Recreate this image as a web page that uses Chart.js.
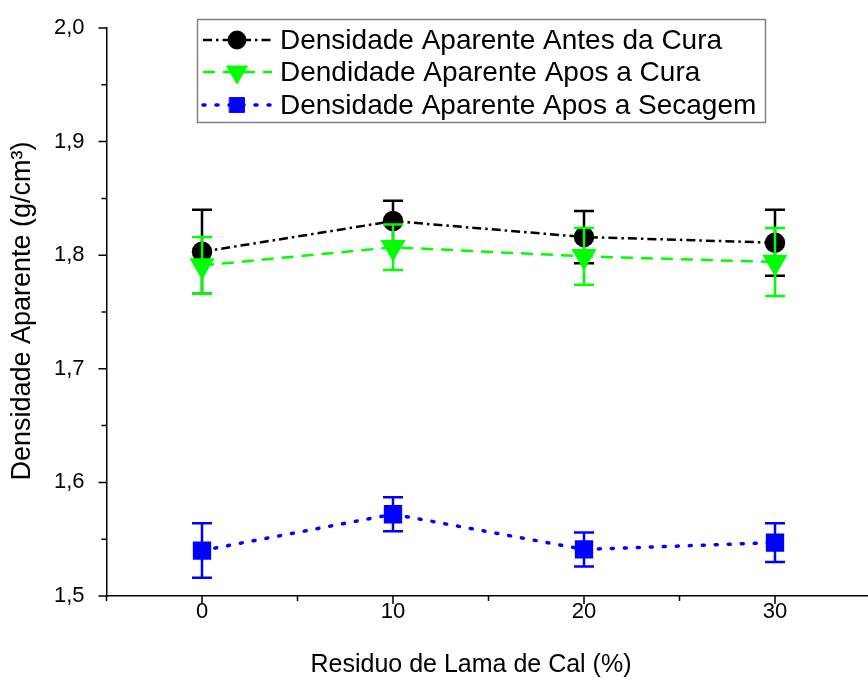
<!DOCTYPE html>
<html>
<head>
<meta charset="utf-8">
<script src="https://cdn.jsdelivr.net/npm/chart.js@4.4.1/dist/chart.umd.min.js"></script>
<style>
  body { margin: 0; background: #fff; overflow: hidden; }
  #wrap { position: relative; width: 885px; height: 681px; }
</style>
</head>
<body>
<div id="wrap"><canvas id="densChart" width="885" height="681"></canvas></div>
<script>
const residuo = [0, 10, 20, 30];

const antesCura = [1.803, 1.830, 1.816, 1.811];
const antesCuraErr = [0.037, 0.018, 0.023, 0.029];

const aposCura = [1.791, 1.807, 1.799, 1.794];
const aposCuraErr = [0.025, 0.020, 0.025, 0.030];

const aposSecagem = [1.540, 1.572, 1.541, 1.547];
const aposSecagemErr = [0.024, 0.015, 0.015, 0.017];

const labels = [
  "Densidade Aparente Antes da Cura",
  "Dendidade Aparente Apos a Cura",
  "Densidade Aparente Apos a Secagem",
];

const FONT = "'Liberation Sans', Arial, sans-serif";

const toPoints = (ys) => residuo.map((x, i) => ({ x: x, y: ys[i] }));

// error bars, drawn right after each dataset
const errorBars = {
  id: "errorBars",
  afterDatasetDraw(chart, args) {
    const ds = chart.data.datasets[args.index];
    if (!ds.errors) return;
    const { ctx, scales } = chart;
    ctx.save();
    ctx.setLineDash([]);
    ctx.strokeStyle = ds.borderColor;
    ctx.lineWidth = 2.5;
    ds.data.forEach((p, i) => {
      const x = scales.x.getPixelForValue(p.x);
      const top = scales.y.getPixelForValue(p.y + ds.errors[i]);
      const bot = scales.y.getPixelForValue(p.y - ds.errors[i]);
      ctx.beginPath();
      ctx.moveTo(x, top);
      ctx.lineTo(x, bot);
      ctx.moveTo(x - 10, top);
      ctx.lineTo(x + 10, top);
      ctx.moveTo(x - 10, bot);
      ctx.lineTo(x + 10, bot);
      ctx.stroke();
    });
    ctx.restore();
  },
};

// outward ticks, x tick labels, axis titles and boxed legend
const decorations = {
  id: "decorations",
  afterDraw(chart) {
    const { ctx, scales, chartArea } = chart;
    const xs = scales.x, ys = scales.y;
    ctx.save();
    ctx.strokeStyle = "#000";
    ctx.lineWidth = 1.5;
    ctx.beginPath();
    for (let v = xs.min; v <= xs.max + 0.001; v += 5) {
      const px = xs.getPixelForValue(v);
      const len = v % 10 === 0 ? 8 : 5;
      ctx.moveTo(px, chartArea.bottom);
      ctx.lineTo(px, chartArea.bottom + len);
    }
    for (let k = 0; k <= 10; k++) {
      const v = ys.min + k * 0.05;
      const py = ys.getPixelForValue(v);
      const len = k % 2 === 0 ? 8 : 5;
      ctx.moveTo(chartArea.left, py);
      ctx.lineTo(chartArea.left - len, py);
    }
    ctx.stroke();

    ctx.fillStyle = "#000";
    ctx.textAlign = "center";
    ctx.textBaseline = "middle";
    ctx.font = "22px " + FONT;
    for (let v = xs.min; v <= xs.max + 0.001; v += 5) {
      if (v % 10 !== 0) continue;
      ctx.fillText(String(v), xs.getPixelForValue(v), chartArea.bottom + 16);
    }

    ctx.font = "25px " + FONT;
    ctx.fillText("Residuo de Lama de Cal (%)", 471, 665);
    ctx.save();
    ctx.translate(23, 311);
    ctx.rotate(-Math.PI / 2);
    ctx.font = "27px " + FONT;
    ctx.fillText("Densidade Aparente (g/cm\u00B3)", 0, 0);
    ctx.restore();

    // legend
    ctx.fillStyle = "#fff";
    ctx.fillRect(197.5, 19.5, 568, 103);
    ctx.strokeStyle = "#808080";
    ctx.lineWidth = 1.5;
    ctx.strokeRect(197.5, 19.5, 568, 103);
    const rows = [40, 72, 105];
    chart.data.datasets.forEach((ds, i) => {
      const y = rows[i];
      ctx.save();
      ctx.strokeStyle = ds.borderColor;
      ctx.lineWidth = ds.borderWidth;
      ctx.lineCap = ds.borderCapStyle || "butt";
      ctx.setLineDash(ds.borderDash);
      ctx.beginPath();
      ctx.moveTo(203, y);
      ctx.lineTo(272, y);
      ctx.stroke();
      ctx.setLineDash([]);
      ctx.fillStyle = ds.pointBackgroundColor;
      ctx.strokeStyle = ds.pointBackgroundColor;
      ctx.lineWidth = 1;
      Chart.helpers.drawPoint(ctx, {
        pointStyle: ds.pointStyle,
        radius: ds.pointRadius,
        rotation: ds.pointRotation || 0,
        borderWidth: 1,
      }, 237, y);
      ctx.restore();
      ctx.fillStyle = "#000";
      ctx.textAlign = "left";
      ctx.font = "28px " + FONT;
      ctx.fillText(labels[i], 280, y + 1);
    });
    ctx.restore();
  },
};

new Chart(document.getElementById("densChart"), {
  type: "line",
  data: {
    datasets: [
      {
        label: labels[0],
        data: toPoints(antesCura),
        errors: antesCuraErr,
        borderColor: "#000000",
        borderWidth: 2.5,
        borderDash: [9, 4, 2.5, 4],
        pointStyle: "circle",
        pointRadius: 9,
        pointBackgroundColor: "#000000",
        pointBorderColor: "#000000",
        order: 3,
      },
      {
        label: labels[1],
        data: toPoints(aposCura),
        errors: aposCuraErr,
        borderColor: "#00ff00",
        borderWidth: 2.5,
        borderDash: [12, 8],
        pointStyle: "triangle",
        pointRotation: 180,
        pointRadius: 12,
        pointBackgroundColor: "#00ff00",
        pointBorderColor: "#00ff00",
        order: 2,
      },
      {
        label: labels[2],
        data: toPoints(aposSecagem),
        errors: aposSecagemErr,
        borderColor: "#0000ff",
        borderWidth: 3.5,
        borderDash: [2, 11],
        borderCapStyle: "round",
        pointStyle: "rect",
        pointRadius: 10.5,
        pointBackgroundColor: "#0000ff",
        pointBorderColor: "#0000ff",
        order: 1,
      },
    ],
  },
  options: {
    responsive: false,
    animation: false,
    layout: { padding: { top: 28, right: 1.5, left: 0, bottom: 0 } },
    elements: { line: { tension: 0, fill: false }, point: { borderWidth: 1, hoverRadius: 0 } },
    plugins: {
      legend: { display: false },
      tooltip: { enabled: false },
    },
    scales: {
      x: {
        type: "linear",
        min: -5,
        max: 35,
        afterFit: (s) => { s.height = 85; },
        grid: { display: false },
        border: { display: true, color: "#000", width: 1.5 },
        ticks: { stepSize: 10, display: false },
      },
      y: {
        min: 1.5,
        max: 2.0,
        afterFit: (s) => { s.width = 106.5; },
        grid: { display: false },
        border: { display: true, color: "#000", width: 1.5 },
        ticks: {
          stepSize: 0.1,
          padding: 14,
          color: "#000",
          font: { family: FONT, size: 22 },
          callback: (v) => v.toFixed(1).replace(".", ","),
        },
      },
    },
  },
  plugins: [errorBars, decorations],
});
</script>
</body>
</html>
